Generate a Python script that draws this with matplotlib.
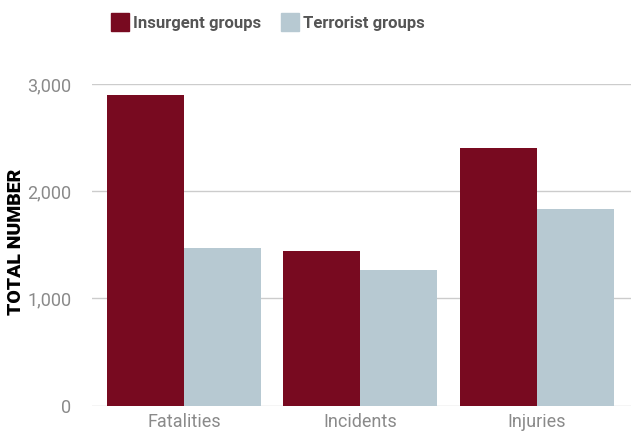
import matplotlib.pyplot as plt
import matplotlib.patches as mpatches
import numpy as np

categories = ['Fatalities', 'Incidents', 'Injuries']
insurgent = [2900, 1440, 2400]
terrorist = [1475, 1265, 1835]
series_names = ['Insurgent groups', 'Terrorist groups']
colors = ['#780a20', '#b7c9d2']

plt.rcParams['font.family'] = ['Roboto', 'DejaVu Sans']

fig = plt.figure(figsize=(6.31, 4.32), dpi=100)
ax = fig.add_axes([92 / 631, 1 - 405.7 / 432, 1 - 92 / 631, (405.7 - 84) / 432])

x = np.arange(len(categories))
w = 0.436
ax.bar(x - w / 2, insurgent, width=w, color=colors[0], zorder=2)
ax.bar(x + w / 2, terrorist, width=w, color=colors[1], zorder=2)

ax.set_xlim(-0.521, 2.533)
ax.set_ylim(0, 3000)
ax.set_yticks([0, 1000, 2000, 3000])
ax.set_yticklabels(['0', '1,000', '2,000', '3,000'])
ax.set_xticks(x)
ax.set_xticklabels(categories)
ax.grid(axis='y', color='#cccccc', linewidth=1, zorder=0)
for s in ax.spines.values():
    s.set_visible(False)
ax.tick_params(axis='y', length=0, pad=15, labelsize=13, labelcolor='#8a8a8a')
ax.tick_params(axis='x', length=0, pad=5, labelsize=13, labelcolor='#8a8a8a')

fig.text(16 / 631, 1 - 242 / 432, 'TOTAL NUMBER', rotation=90, ha='center', va='center',
         fontsize=14, fontweight='black', color='black')

handles = [mpatches.Patch(color=c, label=n) for c, n in zip(colors, series_names)]
leg = fig.legend(handles=handles, loc='center', bbox_to_anchor=(268 / 631, 1 - 22 / 432),
                 ncol=2, frameon=False, handlelength=1.08, handleheight=1.3,
                 handletextpad=0.25, columnspacing=1.2,
                 prop={'size': 12, 'weight': 'bold'})
for t in leg.get_texts():
    t.set_color('#555555')

fig.savefig('out.png', dpi=100)
